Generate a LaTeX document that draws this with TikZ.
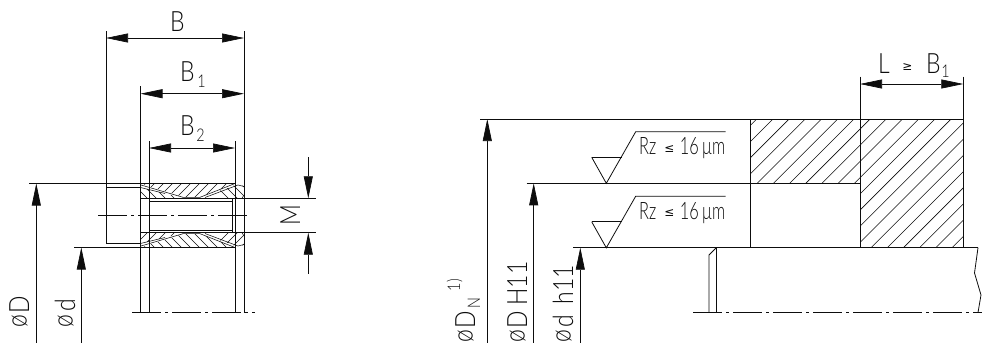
\documentclass[tikz,border=0pt]{standalone}
\usepackage{fontspec}
\usetikzlibrary{arrows.meta}
\newfontfamily\isofont[FakeStretch=0.82]{Lato Light}
\newfontfamily\isonarrow[FakeStretch=0.68]{Lato Light}
\newcommand{\dsym}{\raisebox{2.5pt}{ø}\kern2pt}
\definecolor{ink}{gray}{0.05}
\tikzset{
 every picture/.style={x=1pt,y=-1pt},
 line/.style={draw=ink,line width=0.8pt},
 thinl/.style={draw=ink,line width=0.55pt},
 dim/.style={draw=ink,line width=0.7pt,{Triangle[length=22pt,width=9pt]}-{Triangle[length=22pt,width=9pt]}},
 onetip/.style={draw=ink,line width=0.7pt,{Triangle[length=22pt,width=9pt]}-},
 center/.style={draw=ink,line width=0.7pt,dash pattern=on 29pt off 4pt on 3pt off 4pt},
 big/.style={inner sep=0,text=ink,font=\isofont\fontsize{28}{28}\selectfont},
 mid/.style={inner sep=0,text=ink,font=\isonarrow\fontsize{24}{24}\selectfont},
 sm/.style={inner sep=0,text=ink,font=\isofont\fontsize{17.5}{17.5}\selectfont},
 sym/.style={inner sep=0,text=ink,font=\fontspec{DejaVu Sans}\fontsize{12}{12}\selectfont},
}
\newcommand{\hatchfwd}[4]{\begin{scope}\clip #1;\foreach \c in {#2,#3,...,#4}{\draw[thinl] (\c,0)--(\c-400,400);}\end{scope}}
\newcommand{\hatchbck}[4]{\begin{scope}\clip #1;\foreach \c in {#2,#3,...,#4}{\draw[thinl] (\c-400,0)--(\c,400);}\end{scope}}
\newcommand{\ringhalf}{%
 \hatchfwd{(141,183.5)--(235,183.5)--(200,197)--(183,197)--cycle}{320}{329}{440}
 \hatchbck{(140.5,187.5)--(183,198)--(140.5,198)--cycle}{340}{349}{390}
 \hatchbck{(237,184.5)--(244,186)--(244,195)--(242,198)--(200,198)--cycle}{430}{439}{460}
 \draw[thinl] (141,185)--(183,197.3)--(200,197.3)--(235,183.5);
 \draw[thinl] (140.5,187.5)--(165,193.5);
 \draw[thinl] (205,197.5)--(238,185)--(244,186.5);
 \draw[thinl] (244,195)--(242,198.3);
}
\begin{document}
\begin{tikzpicture}
\useasboundingbox (0,0) rectangle (982,343);
% ---- left view
\draw[line] (106,31)--(106,243)--(140.5,243);
\draw[line] (106,187.7)--(140.5,187.7);
\draw[line] (244,31)--(244,312.7);
\draw[line] (140.5,86)--(140.5,312.7);
\draw[line] (149,141)--(149,312.7);
\draw[line] (235,141)--(235,312.7);
\draw[center] (132,312.7)--(255,312.7);
\draw[line] (29,183.5)--(235,183.5);
\draw[line] (74,247.5)--(235,247.5);
\ringhalf
\begin{scope}[shift={(0,431)},yscale=-1]
 \ringhalf
\end{scope}
\draw[line] (140.5,198.3)--(316,198.3);
\draw[line] (140.5,232.7)--(316,232.7);
\draw[line] (149,201)--(232,201);
\draw[line] (149,230)--(232,230);
\draw[line] (232,199)--(232,232);
\draw[center] (98,215.7)--(250,215.7);
\draw[dim] (106,38)--(244,38);
\draw[dim] (140.5,93.7)--(244,93.7);
\draw[dim] (149,148)--(235,148);
\draw[onetip] (308.3,198.3)--(308.3,157);
\draw[onetip] (308.3,232.7)--(308.3,274);
\draw[onetip] (36.3,183.5)--(36.3,343);
\draw[onetip] (81.3,247.5)--(81.3,343);
\node[big,anchor=base] (tB) at (177.5,31) {B};
\node[big,anchor=base west] (tBa) at (180,81) {B};
\node[sm,anchor=base] (tBas) at (201.5,87) {1};
\node[big,anchor=base west] (tBb) at (180,135) {B};
\node[sm,anchor=base] (tBbs) at (200.5,141) {2};
\node[big,rotate=90,anchor=base] (tM) at (300,215.5) {M};
\node[big,rotate=90,anchor=base west] (tDo) at (29,328) {\dsym D};
\node[big,rotate=90,anchor=base west] (tdo) at (75,328) {\dsym\kern2pt d};
% ---- right view
\hatchfwd{(750.7,119)--(860,119)--(860,183.3)--(750.7,183.3)--cycle}{875.7}{891.9}{1060}
\hatchfwd{(860,119)--(963.3,119)--(963.3,247.7)--(860,247.7)--cycle}{875.7}{891.9}{1240}
\draw[line] (480,119)--(963.3,119);
\draw[line] (526.7,183.3)--(860,183.3);
\draw[line] (573,247.7)--(978,247.7);
\draw[line] (750.7,119)--(750.7,247.7);
\draw[line] (860,76.7)--(860,247.7);
\draw[line] (963.3,76.7)--(963.3,247.7);
\draw[dim] (860,84)--(963.3,84);
\draw[onetip] (487.3,119)--(487.3,343);
\draw[onetip] (533.7,183.3)--(533.7,343);
\draw[onetip] (580.3,247.7)--(580.3,343);
% surface symbols
\foreach \dy/\nm in {0/a,64.5/b}{
 \draw[line] (591.7,157.3+\dy)--(621.7,157.3+\dy);
 \draw[line] (591.7,157.3+\dy)--(606.3,183.3+\dy)--(635.7,131.7+\dy)--(725.7,131.7+\dy);
 \node[mid,anchor=base west] (rz\nm) at (639,154.5+\dy) {Rz};
 \node[sym,anchor=center] (le\nm) at (669.5,149+\dy) {≤};
 \node[mid,anchor=base east] (sx\nm) at (699,154.5+\dy) {16};
 \node[mid,anchor=base east] (um\nm) at (725.5,154.5+\dy) {µm};
}
% shaft
\draw[line] (716.3,247.7)--(716.3,312.5);
\draw[line] (716.3,247.7)--(709,255)--(709,312.5);
\draw[line] (978,247.7)--(974.5,273)--(981,295)--(978,312.5);
\draw[center] (693,312.5)--(982,312.5);
% top label
\node[big,anchor=base west] (tL) at (878,73) {L};
\node[sym] (tge) at (907.5,67) {≥};
\node[big,anchor=base west] (tBl) at (926,73) {B};
\node[sm,anchor=base] (tBls) at (945.5,77) {1};
% rotated left labels
\node[big,rotate=90,anchor=base west] (tDN) at (475,343) {\dsym D};
\node[sm,rotate=90,anchor=base] (tDNs) at (480,303) {N};
\node[sm,rotate=90,anchor=base] (tDNn) at (460,285) {1)};
\node[big,rotate=90,anchor=base west] (tDH) at (527,343) {\dsym D\kern5pt H11};
\node[big,rotate=90,anchor=base west] (tdh) at (573,343) {\dsym\kern1pt d\kern10pt h11};
\end{tikzpicture}
\end{document}
